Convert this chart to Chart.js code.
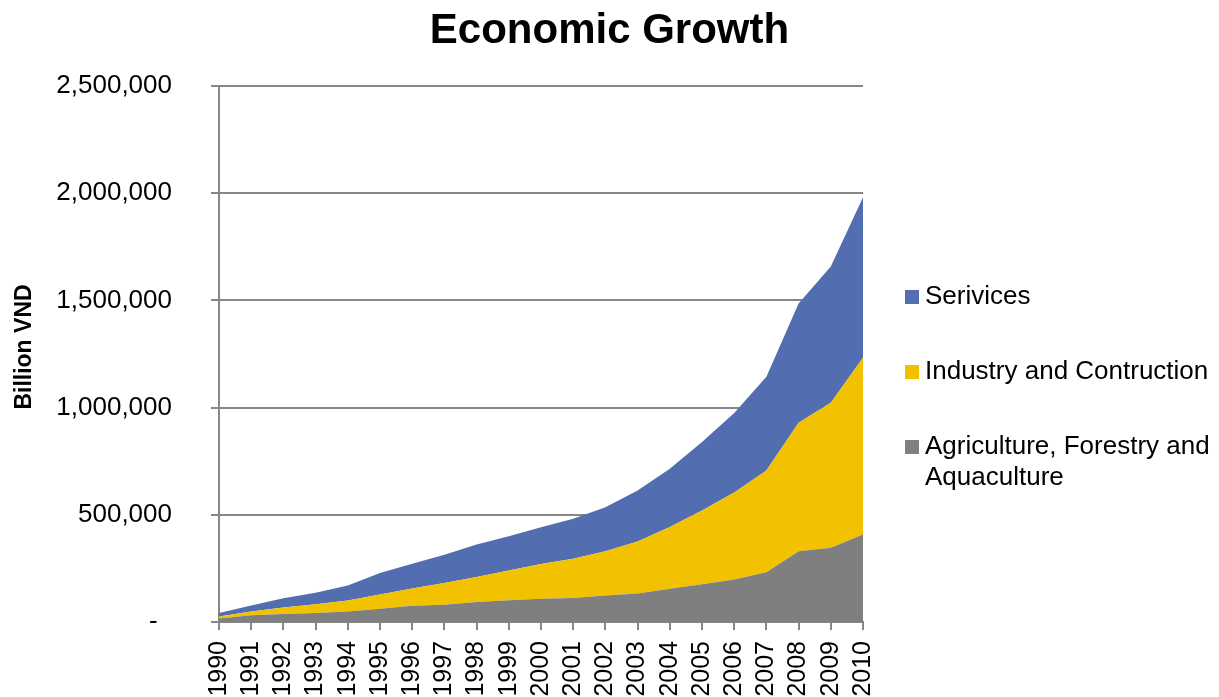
<!DOCTYPE html>
<html>
<head>
<meta charset="utf-8">
<title>Economic Growth</title>
<script src="https://cdn.jsdelivr.net/npm/chart.js@4.4.1/dist/chart.umd.min.js"></script>
<style>
  html, body { margin: 0; padding: 0; background: #fff; overflow: hidden; }
  #wrap { width: 1219px; height: 697px; }
</style>
</head>
<body>
<div id="wrap"><canvas id="myChart" width="1219" height="697"></canvas></div>
<script>
// GDP by sector, billion VND (current prices)
const years = ['1990','1991','1992','1993','1994','1995','1996','1997','1998','1999','2000',
               '2001','2002','2003','2004','2005','2006','2007','2008','2009','2010'];
const agriculture = [16252, 31058, 37513, 41895, 48968, 62219, 75514, 80826, 93073, 101723, 108356,
                     111858, 123383, 133118, 155144, 176402, 198797, 232586, 329886, 346786, 407647];
const industry = [9513, 18252, 30135, 40535, 51540, 65820, 80876, 100595, 117299, 137959, 162220,
                  183515, 206197, 242126, 287616, 344224, 404697, 474423, 599147, 676408, 824904];
const services = [16190, 27397, 42884, 54141, 69750, 100853, 115646, 132202, 150645, 160260, 171070,
                  185922, 206182, 238199, 272547, 318585, 370772, 436706, 556005, 635195, 748363];
const yTicks = [0, 500000, 1000000, 1500000, 2000000, 2500000];

const FONT = "'Liberation Sans', Arial, sans-serif";
const GRID = '#878787';

// title, y axis caption and the legend on the right, drawn by hand
// (title is centred on the whole canvas, the long legend label wraps)
const decorations = {
  id: 'decorations',
  afterDraw(chart) {
    const ctx = chart.ctx;
    const ds = chart.data.datasets;
    ctx.save();
    ctx.fillStyle = '#000';
    ctx.textBaseline = 'middle';

    ctx.textAlign = 'center';
    ctx.font = 'bold 42px ' + FONT;
    ctx.fillText('Economic Growth', chart.width / 2, 31);

    ctx.save();
    ctx.translate(25, 347);
    ctx.rotate(-Math.PI / 2);
    ctx.font = 'bold 23px ' + FONT;
    ctx.fillText('Billion VND', 0, 0);
    ctx.restore();

    const rows = [
      { i: 2, lines: ['Serivices'], y: 297 },
      { i: 1, lines: ['Industry and Contruction'], y: 372 },
      { i: 0, lines: ['Agriculture, Forestry and', 'Aquaculture'], y: 447 }
    ];
    ctx.textAlign = 'left';
    ctx.font = '26px ' + FONT;
    rows.forEach(r => {
      ctx.fillStyle = ds[r.i].backgroundColor;
      ctx.fillRect(905, r.y - 7, 14, 14);
      ctx.fillStyle = '#000';
      r.lines.forEach((t, k) => ctx.fillText(t, 925, r.y + k * 31));
    });
    ctx.restore();
  }
};

new Chart(document.getElementById('myChart'), {
  type: 'line',
  data: {
    labels: years,
    datasets: [
      { label: 'Agriculture, Forestry and Aquaculture', data: agriculture,
        backgroundColor: '#7f7f7f', fill: 'origin' },
      { label: 'Industry and Contruction', data: industry,
        backgroundColor: '#f2c200', fill: '-1' },
      { label: 'Serivices', data: services,
        backgroundColor: '#526eb0', fill: '-1' }
    ]
  },
  options: {
    responsive: false,
    animation: false,
    elements: {
      point: { radius: 0 },
      line: { borderWidth: 0, tension: 0 }
    },
    layout: { padding: { left: 0, right: 356, top: 86, bottom: 0 } },
    plugins: {
      legend: { display: false },
      tooltip: { enabled: false },
      title: { display: false }
    },
    scales: {
      x: {
        offset: false,
        afterFit: s => { s.height = 75; },
        grid: { drawOnChartArea: false, color: GRID, lineWidth: 2, tickLength: 8 },
        border: { color: GRID, width: 2 },
        ticks: {
          autoSkip: false, minRotation: 90, maxRotation: 90, padding: 11,
          color: '#000', font: { family: FONT, size: 25 }
        }
      },
      y: {
        stacked: true,
        min: 0,
        max: 2500000,
        afterFit: s => { s.width = 219; },
        afterBuildTicks: s => { s.ticks = yTicks.map(v => ({ value: v })); },
        grid: { color: GRID, lineWidth: 2, tickLength: 8 },
        border: { color: GRID, width: 2 },
        ticks: {
          padding: 39, color: '#000', font: { family: FONT, size: 26 },
          callback: v => v === 0 ? '-  ' : v.toLocaleString('en-US')
        }
      }
    }
  },
  plugins: [decorations]
});
</script>
</body>
</html>
